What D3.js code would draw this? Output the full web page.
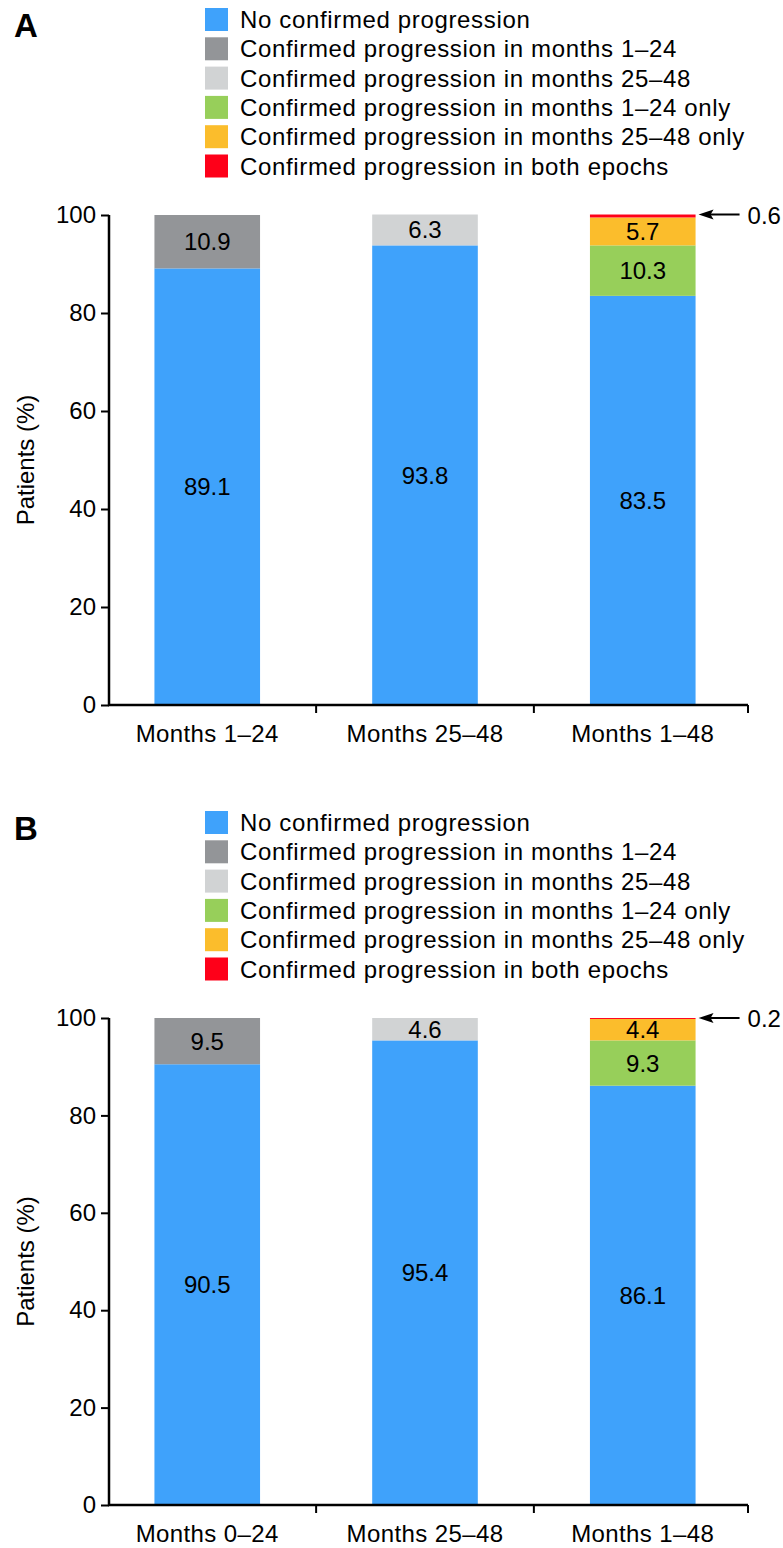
<!DOCTYPE html>
<html lang="en">
<head>
<meta charset="UTF-8">
<title>Confirmed progression by epoch</title>
<script src="https://d3js.org/d3.v7.min.js"></script>
<style>
  body { margin: 0; background: #fff; font-family: "Liberation Sans", Arial, sans-serif; }
  svg text { fill: #000; }
</style>
</head>
<body>
<svg id="chart" width="783" height="1548"></svg>
<script>
// legend entries (stack order bottom -> top)
const seriesNames = [
  "No confirmed progression",
  "Confirmed progression in months 1\u201324",
  "Confirmed progression in months 25\u201348",
  "Confirmed progression in months 1\u201324 only",
  "Confirmed progression in months 25\u201348 only",
  "Confirmed progression in both epochs"
];
const seriesColors = ["#3fa2fb", "#939598", "#d1d3d4", "#97cf5a", "#fbbd2c", "#fe0019"];

// panel A
const categoriesA = ["Months 1\u201324", "Months 25\u201348", "Months 1\u201348"];
const valuesA = [
  [89.1, 10.9, 0, 0, 0, 0],
  [93.8, 0, 6.3, 0, 0, 0],
  [83.5, 0, 0, 10.3, 5.7, 0.6]
];
// panel B
const categoriesB = ["Months 0\u201324", "Months 25\u201348", "Months 1\u201348"];
const valuesB = [
  [90.5, 9.5, 0, 0, 0, 0],
  [95.4, 0, 4.6, 0, 0, 0],
  [86.1, 0, 0, 9.3, 4.4, 0.2]
];
const yTicks = [0, 20, 40, 60, 80, 100];

const svg = d3.select("#chart");

function drawPanel(letter, categories, values, top, plotH, arrowLabel) {
  const g = svg.append("g").attr("transform", `translate(0,${top})`);

  // panel letter
  g.append("text").attr("x", 14).attr("y", 37)
    .attr("font-size", 33).attr("font-weight", "bold").text(letter);

  // legend
  const leg = g.selectAll(".leg").data(seriesNames).enter().append("g")
    .attr("transform", (d, i) => `translate(205,${8 + i * 29.3})`);
  leg.append("rect").attr("width", 23).attr("height", 23)
    .attr("fill", (d, i) => seriesColors[i]);
  leg.append("text").attr("x", 35).attr("y", 20)
    .attr("font-size", 24).attr("letter-spacing", 0.65).text(d => d);

  const y0 = 215, y1 = y0 + plotH;
  const y = d3.scaleLinear().domain([0, 100]).range([y1, y0]);
  const x = d3.scaleBand().domain(categories).range([100, 750])
    .paddingInner(0.515).paddingOuter(0.25);
  const step = x.step();

  // bars
  values.forEach((vals, ci) => {
    let acc = 0;
    const cat = categories[ci];
    vals.forEach((v, si) => {
      if (v <= 0) return;
      const lo = acc, hi = acc + v;
      acc = hi;
      g.append("rect")
        .attr("x", x(cat)).attr("width", x.bandwidth())
        .attr("y", y(hi)).attr("height", y(lo) - y(hi))
        .attr("fill", seriesColors[si]);
      if (v >= 2) {
        g.append("text")
          .attr("x", x(cat) + x.bandwidth() / 2)
          .attr("y", (y(lo) + y(hi)) / 2 + 8.5)
          .attr("text-anchor", "middle").attr("font-size", 24)
          .text(v.toFixed(1));
      }
    });
  });

  // y axis
  const yAxis = g.append("g").attr("transform", "translate(109,0)")
    .call(d3.axisLeft(y).tickValues(yTicks).tickSize(8).tickPadding(5));
  yAxis.select(".domain").attr("d", `M0,${y0}V${y1}`).attr("stroke-width", 2.5);
  yAxis.selectAll(".tick line").attr("stroke-width", 2);
  yAxis.selectAll(".tick text").attr("font-size", 24)
    .attr("font-family", "Liberation Sans, Arial, sans-serif").attr("fill", "#000");

  // x axis
  const xAxis = g.append("g").attr("transform", `translate(0,${y1})`);
  xAxis.append("line").attr("x1", 108).attr("x2", 748)
    .attr("stroke", "#000").attr("stroke-width", 2.5);
  const gap = (step - x.bandwidth()) / 2;
  const bounds = [x(categories[1]) - gap, x(categories[2]) - gap, 748];
  xAxis.selectAll(".xt").data(bounds).enter().append("line")
    .attr("x1", d => d).attr("x2", d => d).attr("y1", 0).attr("y2", 8)
    .attr("stroke", "#000").attr("stroke-width", 2);
  xAxis.selectAll(".xl").data(categories).enter().append("text")
    .attr("x", d => x(d) + x.bandwidth() / 2).attr("y", 37)
    .attr("text-anchor", "middle").attr("font-size", 24).attr("letter-spacing", 0.4)
    .text(d => d);

  // y label
  g.append("text")
    .attr("transform", `translate(34,${(y0 + y1) / 2}) rotate(-90)`)
    .attr("text-anchor", "middle").attr("font-size", 24).text("Patients (%)");

  // arrow annotation for the thin top segment
  const last = categories[2];
  const total = d3.sum(values[2]);
  const ay = y(total);
  const bx = x(last) + x.bandwidth();
  g.append("line").attr("x1", bx + 44).attr("x2", bx + 12)
    .attr("y1", ay).attr("y2", ay).attr("stroke", "#000").attr("stroke-width", 2);
  g.append("path")
    .attr("d", `M${bx + 3},${ay}L${bx + 18},${ay - 5}L${bx + 15},${ay}L${bx + 18},${ay + 5}Z`)
    .attr("fill", "#000");
  g.append("text").attr("x", bx + 52).attr("y", ay + 9)
    .attr("font-size", 24).text(arrowLabel);
}

drawPanel("A", categoriesA, valuesA, 0, 490, "0.6");
drawPanel("B", categoriesB, valuesB, 803, 487, "0.2");
</script>
</body>
</html>
